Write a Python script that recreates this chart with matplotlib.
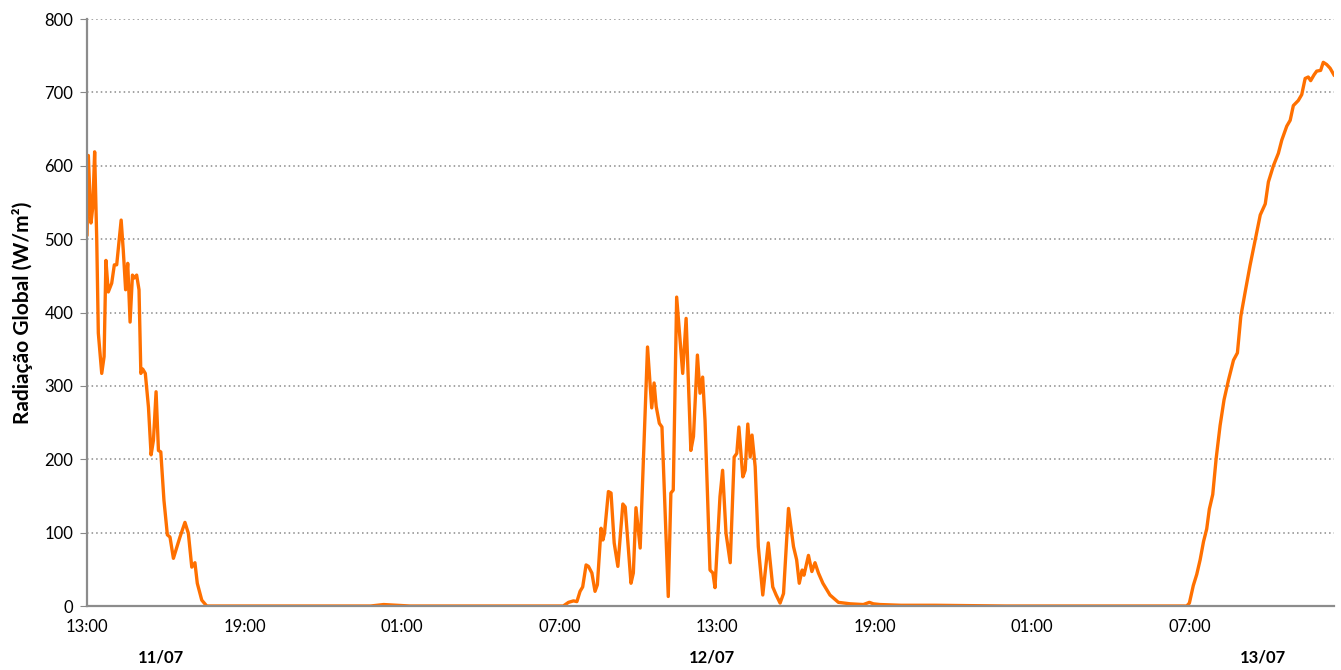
import numpy as np
import matplotlib.pyplot as plt

# horas desde 11/07 13:00 e radiação global (W/m²)
horas = [0.00, 0.05, 0.15, 0.22, 0.29, 0.37, 0.43, 0.56, 0.65, 0.72, 0.81, 0.94,
         1.04, 1.13, 1.30, 1.38, 1.47, 1.55, 1.64, 1.73, 1.80, 1.89, 1.98, 2.05,
         2.12, 2.22, 2.34, 2.44, 2.53, 2.63, 2.72, 2.81, 2.93, 3.06, 3.16, 3.29,
         3.42, 3.54, 3.73, 3.86, 3.99, 4.11, 4.20, 4.37, 4.56,
         8.0, 10.8, 11.3, 11.8, 12.3, 15.0, 18.0,
         18.14, 18.34, 18.53, 18.66, 18.78, 18.88, 19.01, 19.10, 19.23, 19.35,
         19.44, 19.58, 19.65, 19.71, 19.86, 19.96, 20.08, 20.22, 20.41, 20.50,
         20.72, 20.81, 20.91, 21.07, 21.35, 21.51, 21.60, 21.68, 21.80, 21.90,
         22.02, 22.14, 22.24, 22.33, 22.46, 22.69, 22.82, 23.00, 23.10, 23.25,
         23.35, 23.45, 23.54, 23.73, 23.84, 23.92, 24.11, 24.21, 24.34, 24.50,
         24.65, 24.75, 24.83, 24.98, 25.07, 25.17, 25.26, 25.33, 25.45, 25.57,
         25.74, 25.95, 26.12, 26.25, 26.40, 26.53, 26.72, 26.91, 27.03, 27.13,
         27.24, 27.31, 27.48, 27.61, 27.73, 27.86, 28.03, 28.30, 28.62, 29.07,
         29.57, 29.80, 29.95, 30.21, 31.0, 32.3, 35.0, 38.0, 41.89,
         41.99, 42.14, 42.27, 42.40, 42.53, 42.65, 42.75, 42.88, 43.01, 43.16,
         43.31, 43.48, 43.67, 43.82, 43.95, 44.12, 44.30, 44.50, 44.69, 44.88,
         45.00, 45.19, 45.38, 45.51, 45.70, 45.83, 45.95, 46.14, 46.27, 46.40,
         46.52, 46.61, 46.74, 46.84, 46.99, 47.09, 47.22, 47.35, 47.51]
radiacao = [505, 614, 522, 544, 619, 499, 372, 317, 340, 471, 428, 440,
            465, 465, 526, 485, 431, 467, 387, 451, 447, 451, 431, 317,
            323, 317, 271, 206, 226, 292, 212, 210, 144, 97, 94, 65,
            80, 94, 114, 99, 53, 59, 31, 8, 0,
            0, 0, 2, 1, 0, 0, 0,
            0, 5, 7, 6, 20, 26, 56, 54, 45, 20,
            29, 106, 90, 99, 156, 154, 86, 54, 139, 135,
            31, 45, 134, 79, 353, 270, 304, 272, 249, 244,
            127, 13, 154, 158, 421, 317, 392, 212, 231, 342,
            290, 312, 253, 49, 45, 25, 149, 185, 99, 59,
            203, 208, 244, 176, 185, 248, 203, 233, 190, 81,
            15, 86, 26, 15, 4, 17, 133, 81, 63, 31,
            49, 42, 69, 47, 59, 45, 31, 15, 5, 3,
            2, 5, 3, 2, 1, 1, 0, 0, 0,
            4, 28, 43, 63, 88, 105, 132, 152, 201, 246,
            281, 308, 335, 345, 395, 429, 464, 499, 533, 548,
            578, 600, 617, 635, 654, 662, 682, 689, 697, 719,
            721, 716, 724, 729, 730, 741, 738, 733, 723]

ticks_h = [0, 6, 12, 18, 24, 30, 36, 42]
ticks_lbl = ["13:00", "19:00", "01:00", "07:00", "13:00", "19:00", "01:00", "07:00"]
dias = ["11/07", "12/07", "13/07"]
dias_h = [2.8, 23.8, 44.8]

plt.rcParams['font.family'] = ['Lato', 'DejaVu Sans']

fig = plt.figure(figsize=(13.41, 6.70), dpi=100)
ax = fig.add_axes([0.0649, 0.0955, 0.9299, 0.8761])

ax.plot(horas, radiacao, color="#FF7000", lw=2.4,
        solid_joinstyle="round", solid_capstyle="round")

ax.set_xlim(0, 47.5)
ax.set_ylim(0, 800)
ax.set_yticks(np.arange(0, 801, 100))
ax.set_xticks(ticks_h)
ax.set_xticklabels(ticks_lbl)
ax.tick_params(axis="x", length=0, pad=9, labelsize=12)
ax.tick_params(axis="y", length=5, color="#888888", direction="out", labelsize=12, pad=5)
ax.yaxis.grid(True, linestyle=(0, (1, 2)), color="#8a8a8a", lw=1.1)
ax.set_axisbelow(True)

for s in ["top", "right"]:
    ax.spines[s].set_visible(False)
for s in ["left", "bottom"]:
    ax.spines[s].set_color("#8c8c8c")
    ax.spines[s].set_linewidth(1.6)

ax.set_ylabel("Radiação Global (W/m²)", fontsize=15, fontweight="bold", labelpad=8)

trans = ax.get_xaxis_transform()
for h, d in zip(dias_h, dias):
    ax.text(h, -0.087, d, transform=trans, ha="center", va="center",
            fontsize=12, fontweight="bold")

fig.savefig("out.png", dpi=100)
